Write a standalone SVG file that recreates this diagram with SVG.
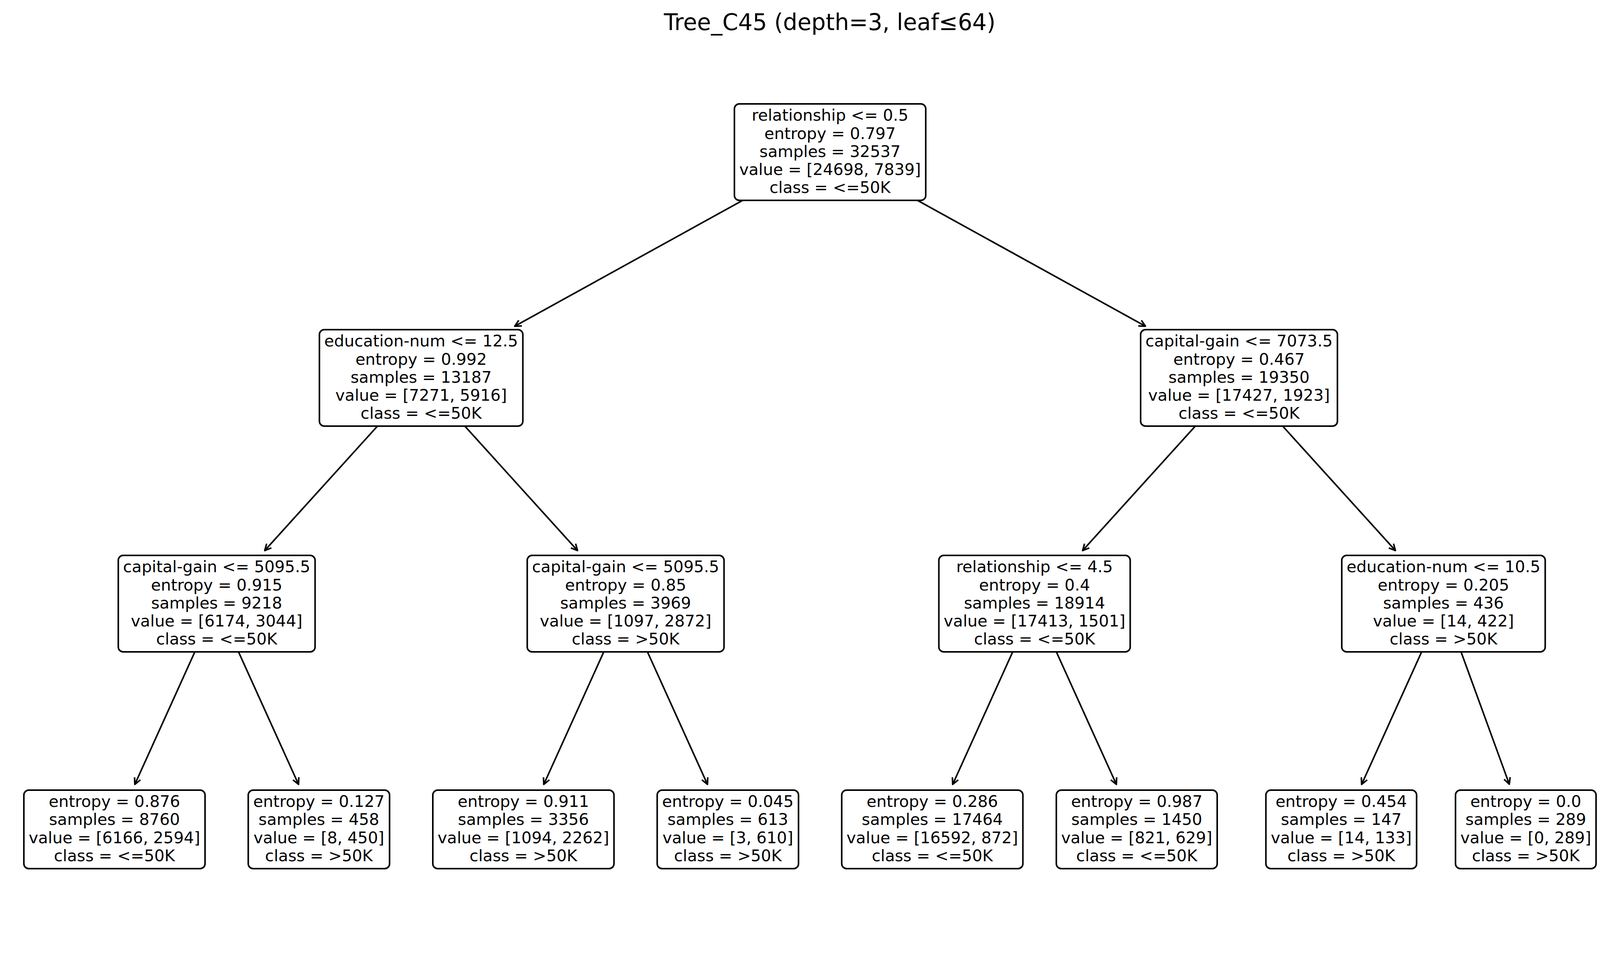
<svg xmlns="http://www.w3.org/2000/svg" width="4245" height="2440" viewBox="0 0 4245 2440">
<style>
.box{fill:#ffffff;stroke:#000000;stroke-width:4}
.t{font-family:"DejaVu Sans","Liberation Sans",sans-serif;font-size:41px;fill:#000000;text-anchor:middle}
.title{font-family:"DejaVu Sans","Liberation Sans",sans-serif;font-size:58px;fill:#000000;text-anchor:middle}
.edge{stroke:#000000;stroke-width:4;fill:none}
</style>
<defs>
<marker id="head" markerUnits="userSpaceOnUse" viewBox="-22 -12 26 24" markerWidth="26" markerHeight="24" refX="0" refY="0" orient="auto" overflow="visible">
<path d="M-16.4,-8.2 L0,0 L-16.4,8.2" fill="none" stroke="#000000" stroke-width="4" stroke-linejoin="round" stroke-linecap="butt"/>
</marker>
</defs>
<rect x="0" y="0" width="4245" height="2440" fill="#ffffff"/>
<text class="title" x="2124" y="77">Tree_C45 (depth=3, leaf≤64)</text>
<g id="connectors">
<line class="edge" x1="2125" y1="389.5" x2="1317.7" y2="835.2" marker-end="url(#head)"/>
<line class="edge" x1="2125" y1="389.5" x2="2932.3" y2="835.2" marker-end="url(#head)"/>
<line class="edge" x1="1078.1" y1="967.5" x2="677.7" y2="1409.6" marker-end="url(#head)"/>
<line class="edge" x1="1078.1" y1="967.5" x2="1478.5" y2="1409.6" marker-end="url(#head)"/>
<line class="edge" x1="3171.9" y1="967.5" x2="2771.5" y2="1409.6" marker-end="url(#head)"/>
<line class="edge" x1="3171.9" y1="967.5" x2="3572.3" y2="1409.6" marker-end="url(#head)"/>
<line class="edge" x1="554.7" y1="1545.5" x2="345.2" y2="2008.3" marker-end="url(#head)"/>
<line class="edge" x1="554.7" y1="1545.5" x2="764.2" y2="2008.3" marker-end="url(#head)"/>
<line class="edge" x1="1601.6" y1="1545.5" x2="1392.1" y2="2008.3" marker-end="url(#head)"/>
<line class="edge" x1="1601.6" y1="1545.5" x2="1811.1" y2="2008.3" marker-end="url(#head)"/>
<line class="edge" x1="2648.4" y1="1545.5" x2="2438.9" y2="2008.3" marker-end="url(#head)"/>
<line class="edge" x1="2648.4" y1="1545.5" x2="2857.9" y2="2008.3" marker-end="url(#head)"/>
<line class="edge" x1="3695.3" y1="1545.5" x2="3485.8" y2="2008.3" marker-end="url(#head)"/>
<line class="edge" x1="3695.3" y1="1545.5" x2="3863.8" y2="2007.9" marker-end="url(#head)"/>
</g>
<g id="node-root">
<rect class="box" x="1880.1" y="266.1" width="489.8" height="246.8" rx="12.5" ry="12.5"/>
<text class="t"><tspan x="2125" y="309.2">relationship &lt;= 0.5</tspan><tspan x="2125" y="355.5">entropy = 0.797</tspan><tspan x="2125" y="401.8">samples = 32537</tspan><tspan x="2125" y="448.1">value = [24698, 7839]</tspan><tspan x="2125" y="494.4">class = &lt;=50K</tspan></text>
</g>
<g id="node-l1-left">
<rect class="box" x="817.7" y="844.1" width="520.8" height="246.8" rx="12.5" ry="12.5"/>
<text class="t"><tspan x="1078.1" y="887.2">education-num &lt;= 12.5</tspan><tspan x="1078.1" y="933.5">entropy = 0.992</tspan><tspan x="1078.1" y="979.8">samples = 13187</tspan><tspan x="1078.1" y="1026.1">value = [7271, 5916]</tspan><tspan x="1078.1" y="1072.4">class = &lt;=50K</tspan></text>
</g>
<g id="node-l1-right">
<rect class="box" x="2920" y="844.1" width="503.8" height="246.8" rx="12.5" ry="12.5"/>
<text class="t"><tspan x="3171.9" y="887.2">capital-gain &lt;= 7073.5</tspan><tspan x="3171.9" y="933.5">entropy = 0.467</tspan><tspan x="3171.9" y="979.8">samples = 19350</tspan><tspan x="3171.9" y="1026.1">value = [17427, 1923]</tspan><tspan x="3171.9" y="1072.4">class = &lt;=50K</tspan></text>
</g>
<g id="node-l2-a">
<rect class="box" x="302.8" y="1422.1" width="503.8" height="246.8" rx="12.5" ry="12.5"/>
<text class="t"><tspan x="554.7" y="1465.2">capital-gain &lt;= 5095.5</tspan><tspan x="554.7" y="1511.5">entropy = 0.915</tspan><tspan x="554.7" y="1557.8">samples = 9218</tspan><tspan x="554.7" y="1604.1">value = [6174, 3044]</tspan><tspan x="554.7" y="1650.4">class = &lt;=50K</tspan></text>
</g>
<g id="node-l2-b">
<rect class="box" x="1349.7" y="1422.1" width="503.8" height="246.8" rx="12.5" ry="12.5"/>
<text class="t"><tspan x="1601.6" y="1465.2">capital-gain &lt;= 5095.5</tspan><tspan x="1601.6" y="1511.5">entropy = 0.85</tspan><tspan x="1601.6" y="1557.8">samples = 3969</tspan><tspan x="1601.6" y="1604.1">value = [1097, 2872]</tspan><tspan x="1601.6" y="1650.4">class = &gt;50K</tspan></text>
</g>
<g id="node-l2-c">
<rect class="box" x="2403.5" y="1422.1" width="489.8" height="246.8" rx="12.5" ry="12.5"/>
<text class="t"><tspan x="2648.4" y="1465.2">relationship &lt;= 4.5</tspan><tspan x="2648.4" y="1511.5">entropy = 0.4</tspan><tspan x="2648.4" y="1557.8">samples = 18914</tspan><tspan x="2648.4" y="1604.1">value = [17413, 1501]</tspan><tspan x="2648.4" y="1650.4">class = &lt;=50K</tspan></text>
</g>
<g id="node-l2-d">
<rect class="box" x="3434.9" y="1422.1" width="520.8" height="246.8" rx="12.5" ry="12.5"/>
<text class="t"><tspan x="3695.3" y="1465.2">education-num &lt;= 10.5</tspan><tspan x="3695.3" y="1511.5">entropy = 0.205</tspan><tspan x="3695.3" y="1557.8">samples = 436</tspan><tspan x="3695.3" y="1604.1">value = [14, 422]</tspan><tspan x="3695.3" y="1650.4">class = &gt;50K</tspan></text>
</g>
<g id="leaf-a">
<rect class="box" x="61.1" y="2023.1" width="463.8" height="200.8" rx="12.5" ry="12.5"/>
<text class="t"><tspan x="293" y="2066">entropy = 0.876</tspan><tspan x="293" y="2112.3">samples = 8760</tspan><tspan x="293" y="2158.6">value = [6166, 2594]</tspan><tspan x="293" y="2204.9">class = &lt;=50K</tspan></text>
</g>
<g id="leaf-b">
<rect class="box" x="635.5" y="2023.1" width="361.8" height="200.8" rx="12.5" ry="12.5"/>
<text class="t"><tspan x="816.4" y="2066">entropy = 0.127</tspan><tspan x="816.4" y="2112.3">samples = 458</tspan><tspan x="816.4" y="2158.6">value = [8, 450]</tspan><tspan x="816.4" y="2204.9">class = &gt;50K</tspan></text>
</g>
<g id="leaf-c">
<rect class="box" x="1108" y="2023.1" width="463.8" height="200.8" rx="12.5" ry="12.5"/>
<text class="t"><tspan x="1339.9" y="2066">entropy = 0.911</tspan><tspan x="1339.9" y="2112.3">samples = 3356</tspan><tspan x="1339.9" y="2158.6">value = [1094, 2262]</tspan><tspan x="1339.9" y="2204.9">class = &gt;50K</tspan></text>
</g>
<g id="leaf-d">
<rect class="box" x="1682.4" y="2023.1" width="361.8" height="200.8" rx="12.5" ry="12.5"/>
<text class="t"><tspan x="1863.3" y="2066">entropy = 0.045</tspan><tspan x="1863.3" y="2112.3">samples = 613</tspan><tspan x="1863.3" y="2158.6">value = [3, 610]</tspan><tspan x="1863.3" y="2204.9">class = &gt;50K</tspan></text>
</g>
<g id="leaf-e">
<rect class="box" x="2154.8" y="2023.1" width="463.8" height="200.8" rx="12.5" ry="12.5"/>
<text class="t"><tspan x="2386.7" y="2066">entropy = 0.286</tspan><tspan x="2386.7" y="2112.3">samples = 17464</tspan><tspan x="2386.7" y="2158.6">value = [16592, 872]</tspan><tspan x="2386.7" y="2204.9">class = &lt;=50K</tspan></text>
</g>
<g id="leaf-f">
<rect class="box" x="2704.2" y="2023.1" width="411.8" height="200.8" rx="12.5" ry="12.5"/>
<text class="t"><tspan x="2910.1" y="2066">entropy = 0.987</tspan><tspan x="2910.1" y="2112.3">samples = 1450</tspan><tspan x="2910.1" y="2158.6">value = [821, 629]</tspan><tspan x="2910.1" y="2204.9">class = &lt;=50K</tspan></text>
</g>
<g id="leaf-g">
<rect class="box" x="3240.7" y="2023.1" width="385.8" height="200.8" rx="12.5" ry="12.5"/>
<text class="t"><tspan x="3433.6" y="2066">entropy = 0.454</tspan><tspan x="3433.6" y="2112.3">samples = 147</tspan><tspan x="3433.6" y="2158.6">value = [14, 133]</tspan><tspan x="3433.6" y="2204.9">class = &gt;50K</tspan></text>
</g>
<g id="leaf-h">
<rect class="box" x="3726.1" y="2023.1" width="359.8" height="200.8" rx="12.5" ry="12.5"/>
<text class="t"><tspan x="3906" y="2066">entropy = 0.0</tspan><tspan x="3906" y="2112.3">samples = 289</tspan><tspan x="3906" y="2158.6">value = [0, 289]</tspan><tspan x="3906" y="2204.9">class = &gt;50K</tspan></text>
</g>
</svg>
